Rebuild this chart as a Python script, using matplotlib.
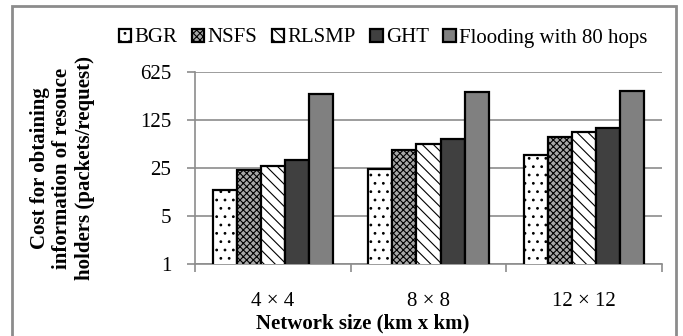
import numpy as np
import matplotlib
matplotlib.use("Agg")
import matplotlib.pyplot as plt
from matplotlib.patches import Rectangle

plt.rcParams['font.family'] = ['Liberation Serif', 'DejaVu Serif']
plt.rcParams['hatch.linewidth'] = 0.8

# data (log-5 axis)
categories = ['4 \u00d7 4', '8 \u00d7 8', '12 \u00d7 12']
series = ['BGR', 'NSFS', 'RLSMP', 'GHT', 'Flooding with 80 hops']
bgr = [12.1, 24.2, 38.2]
nsfs = [23.1, 45.6, 70.7]
rlsmp = [26.3, 55.9, 82.4]
ght = [32.3, 66.1, 96.5]
flooding = [298, 315, 334]
y_ticks = [1, 5, 25, 125, 625]

values = [bgr, nsfs, rlsmp, ght, flooding]
faces = ['white', '#a8a8a8', 'white', '#404040', '#808080']
hatches = ['..', 'xxxxx', '\\\\\\', None, None]

fig = plt.figure(figsize=(6.83, 3.36), dpi=100)
ax = fig.add_axes([195 / 683, 1 - 264 / 336, (662 - 195) / 683, 192 / 336])

x = np.arange(len(categories))
w = 0.155
for i, (name, vals) in enumerate(zip(series, values)):
    ax.bar(x + (i - 2) * w, vals, width=w, color=faces[i], hatch=hatches[i],
           edgecolor='black', linewidth=1.6, label=name, zorder=3)

ax.set_yscale('log', base=5)
ax.set_ylim(1, 625)
ax.set_yticks(y_ticks)
ax.set_yticklabels([str(t) for t in y_ticks])
ax.yaxis.set_minor_locator(matplotlib.ticker.NullLocator())
ax.grid(axis='y', color='#8c8c8c', linewidth=1.2, zorder=0)
ax.set_axisbelow(True)

ax.set_xlim(-0.5, 2.5)
ax.set_xticks([-0.5, 0.5, 1.5, 2.5])
ax.set_xticklabels([])
ax.set_xticks(x, minor=True)
ax.set_xticklabels(categories, minor=True)
ax.tick_params(axis='x', which='major', direction='out', length=6, color='#8c8c8c', width=1.2)
ax.tick_params(axis='x', which='minor', length=0, pad=20, labelsize=15)
ax.tick_params(axis='y', direction='out', length=6, color='#8c8c8c', width=1.2, labelsize=15, pad=11)

for s in ['top', 'right']:
    ax.spines[s].set_visible(False)
for s in ['left', 'bottom']:
    ax.spines[s].set_color('#8c8c8c')
    ax.spines[s].set_linewidth(1.2)

ax.set_ylabel('Cost for obtaining\ninformation of resouce\nholders (packets/request)',
              fontsize=15, fontweight='bold', linespacing=1.15)
ax.yaxis.set_label_coords(-0.215, 0.5)
fig.text(363 / 683, 1 - 323 / 336, 'Network size (km x km)', ha='center', va='center',
         fontsize=15, fontweight='bold')

fig.legend(loc='center', bbox_to_anchor=(383 / 683, 1 - 38 / 336), ncol=5, frameon=False,
           fontsize=15, handlelength=0.6, handleheight=0.6, handletextpad=0.15,
           columnspacing=0.7, borderaxespad=0)

fig.patches.append(Rectangle((12 / 683, -0.02), (676 - 12) / 683, 1.02 - 6 / 336,
                             transform=fig.transFigure, fill=False,
                             edgecolor='#8c8c8c', linewidth=2))

fig.savefig('out.png', dpi=100)
